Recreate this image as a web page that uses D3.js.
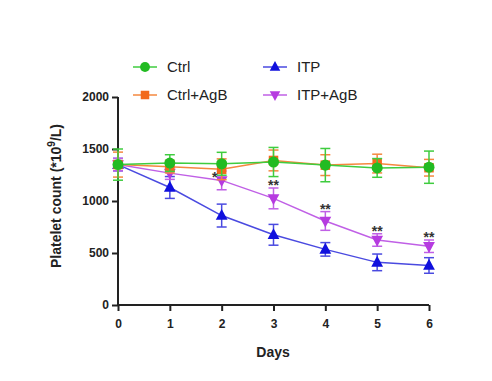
<!DOCTYPE html>
<html><head><meta charset="utf-8">
<script src="https://cdn.jsdelivr.net/npm/d3@7"></script>
<style>body{margin:0;background:#fff}svg{display:block}text{font-family:Arial,"Liberation Sans",sans-serif}</style>
</head><body>
<svg id="c" width="492" height="381"></svg>
<script>
const days = [0,1,2,3,4,5,6];
const yTicks = [0,500,1000,1500,2000];
const seriesNames = ["Ctrl","Ctrl+AgB","ITP","ITP+AgB"];
const ctrlMean = [1350,1365,1358,1375,1345,1318,1325];
const ctrlErr  = [150,80,110,140,160,90,155];
const agbMean  = [1350,1330,1305,1390,1345,1360,1320];
const agbErr   = [120,60,100,100,100,90,80];
const itpMean  = [1350,1130,860,675,535,410,380];
const itpErr   = [60,105,110,100,65,80,75];
const itpAgbMean = [1350,1268,1198,1025,808,625,565];
const itpAgbErr  = [60,60,90,100,90,60,60];
const sigLabels = ["","","*","**","**","**","**"];

const colors = {"Ctrl":"#22bb22","Ctrl+AgB":"#f26a1b","ITP":"#1010dd","ITP+AgB":"#b63be0"};
const lineColors = {"Ctrl":"#3fcc3f","Ctrl+AgB":"#f5883f","ITP":"#4a4ae0","ITP+AgB":"#c060e6"};
const symbols = {"Ctrl":"circle","Ctrl+AgB":"square","ITP":"up","ITP+AgB":"down"};

const svg = d3.select("#c");
const x = d3.scaleLinear().domain([0,6]).range([118,429]);
const y = d3.scaleLinear().domain([0,2000]).range([305,97]);

// axes
const xAxis = d3.axisBottom(x).tickValues(days).tickSize(6).tickFormat(d3.format("d"));
const gx = svg.append("g").attr("transform","translate(0,305)").call(xAxis);
const yAxis = d3.axisLeft(y).tickValues(yTicks).tickSize(6).tickFormat(d3.format("d"));
const gy = svg.append("g").attr("transform","translate(118,0)").call(yAxis);
[gx,gy].forEach(g=>{
  g.select(".domain").attr("stroke","#222").attr("stroke-width",2);
  g.selectAll(".tick line").attr("stroke","#222").attr("stroke-width",2);
  g.selectAll(".tick text").attr("fill","#222").attr("font-size",12).attr("font-weight","bold");
});
gx.select(".domain").attr("d","M118,0H429");
gy.select(".domain").attr("d","M0,305V97");
gx.selectAll(".tick text").attr("dy","1.15em");

svg.append("text").attr("x",273).attr("y",357).attr("text-anchor","middle")
  .attr("font-size",14).attr("font-weight","bold").attr("fill","#222").text("Days");
const yl = svg.append("text").attr("transform","translate(61,196) rotate(-90)").attr("text-anchor","middle")
  .attr("font-size",14).attr("font-weight","bold").attr("fill","#222");
yl.append("tspan").text("Platelet count (*10");
yl.append("tspan").attr("font-size",10).attr("dy",-6).text("9");
yl.append("tspan").attr("dy",6).text("/L)");

function drawMarker(g, type, cx, cy, color, s){
  if(type==="circle") g.append("circle").attr("cx",cx).attr("cy",cy).attr("r",s*0.58).attr("fill",color);
  else if(type==="square") g.append("rect").attr("x",cx-s*0.5).attr("y",cy-s*0.5).attr("width",s).attr("height",s).attr("fill",color);
  else if(type==="up") g.append("path").attr("d",`M${cx},${cy-s*0.7}L${cx+s*0.62},${cy+s*0.45}L${cx-s*0.62},${cy+s*0.45}Z`).attr("fill",color);
  else g.append("path").attr("d",`M${cx},${cy+s*0.7}L${cx+s*0.62},${cy-s*0.45}L${cx-s*0.62},${cy-s*0.45}Z`).attr("fill",color);
}

const data = [
  {name:"ITP", m:itpMean, e:itpErr},
  {name:"ITP+AgB", m:itpAgbMean, e:itpAgbErr},
  {name:"Ctrl+AgB", m:agbMean, e:agbErr},
  {name:"Ctrl", m:ctrlMean, e:ctrlErr}
];
const line = d3.line().x((d,i)=>x(days[i])).y(d=>y(d));
data.forEach(s=>{
  const g = svg.append("g");
  const lc = lineColors[s.name];
  g.append("path").attr("d",line(s.m)).attr("fill","none").attr("stroke",lc).attr("stroke-width",1.5);
  s.m.forEach((v,i)=>{
    const cx = x(days[i]);
    const t = y(v+s.e[i]), b = y(v-s.e[i]);
    g.append("line").attr("x1",cx).attr("x2",cx).attr("y1",t).attr("y2",b).attr("stroke",lc).attr("stroke-width",1.5);
    g.append("line").attr("x1",cx-5).attr("x2",cx+5).attr("y1",t).attr("y2",t).attr("stroke",lc).attr("stroke-width",1.5);
    g.append("line").attr("x1",cx-5).attr("x2",cx+5).attr("y1",b).attr("y2",b).attr("stroke",lc).attr("stroke-width",1.5);
    drawMarker(g, symbols[s.name], cx, y(v), colors[s.name], 9.5);
  });
});

// significance
sigLabels.forEach((lab,i)=>{
  if(!lab) return;
  const top = y(itpAgbMean[i]+itpAgbErr[i]);
  const single = lab==="*";
  svg.append("text").attr("x",x(days[i])+(single?-7:0)).attr("y",top+(single?11:2)).attr("text-anchor","middle")
    .attr("font-size",14).attr("font-weight","bold").attr("fill","#333").text(lab);
});

// legend
const legend = [
  {name:"Ctrl", lx:133, ly:67},
  {name:"Ctrl+AgB", lx:133, ly:95},
  {name:"ITP", lx:263, ly:67},
  {name:"ITP+AgB", lx:263, ly:95}
];
legend.forEach(l=>{
  const g = svg.append("g");
  g.append("line").attr("x1",l.lx).attr("x2",l.lx+24).attr("y1",l.ly).attr("y2",l.ly).attr("stroke",lineColors[l.name]).attr("stroke-width",1.5);
  drawMarker(g, symbols[l.name], l.lx+12, l.ly, colors[l.name], 8.5);
  g.append("text").attr("x",l.lx+34).attr("y",l.ly).attr("dy","0.36em").attr("font-size",15).attr("fill","#222").text(l.name);
});
</script>
</body></html>
